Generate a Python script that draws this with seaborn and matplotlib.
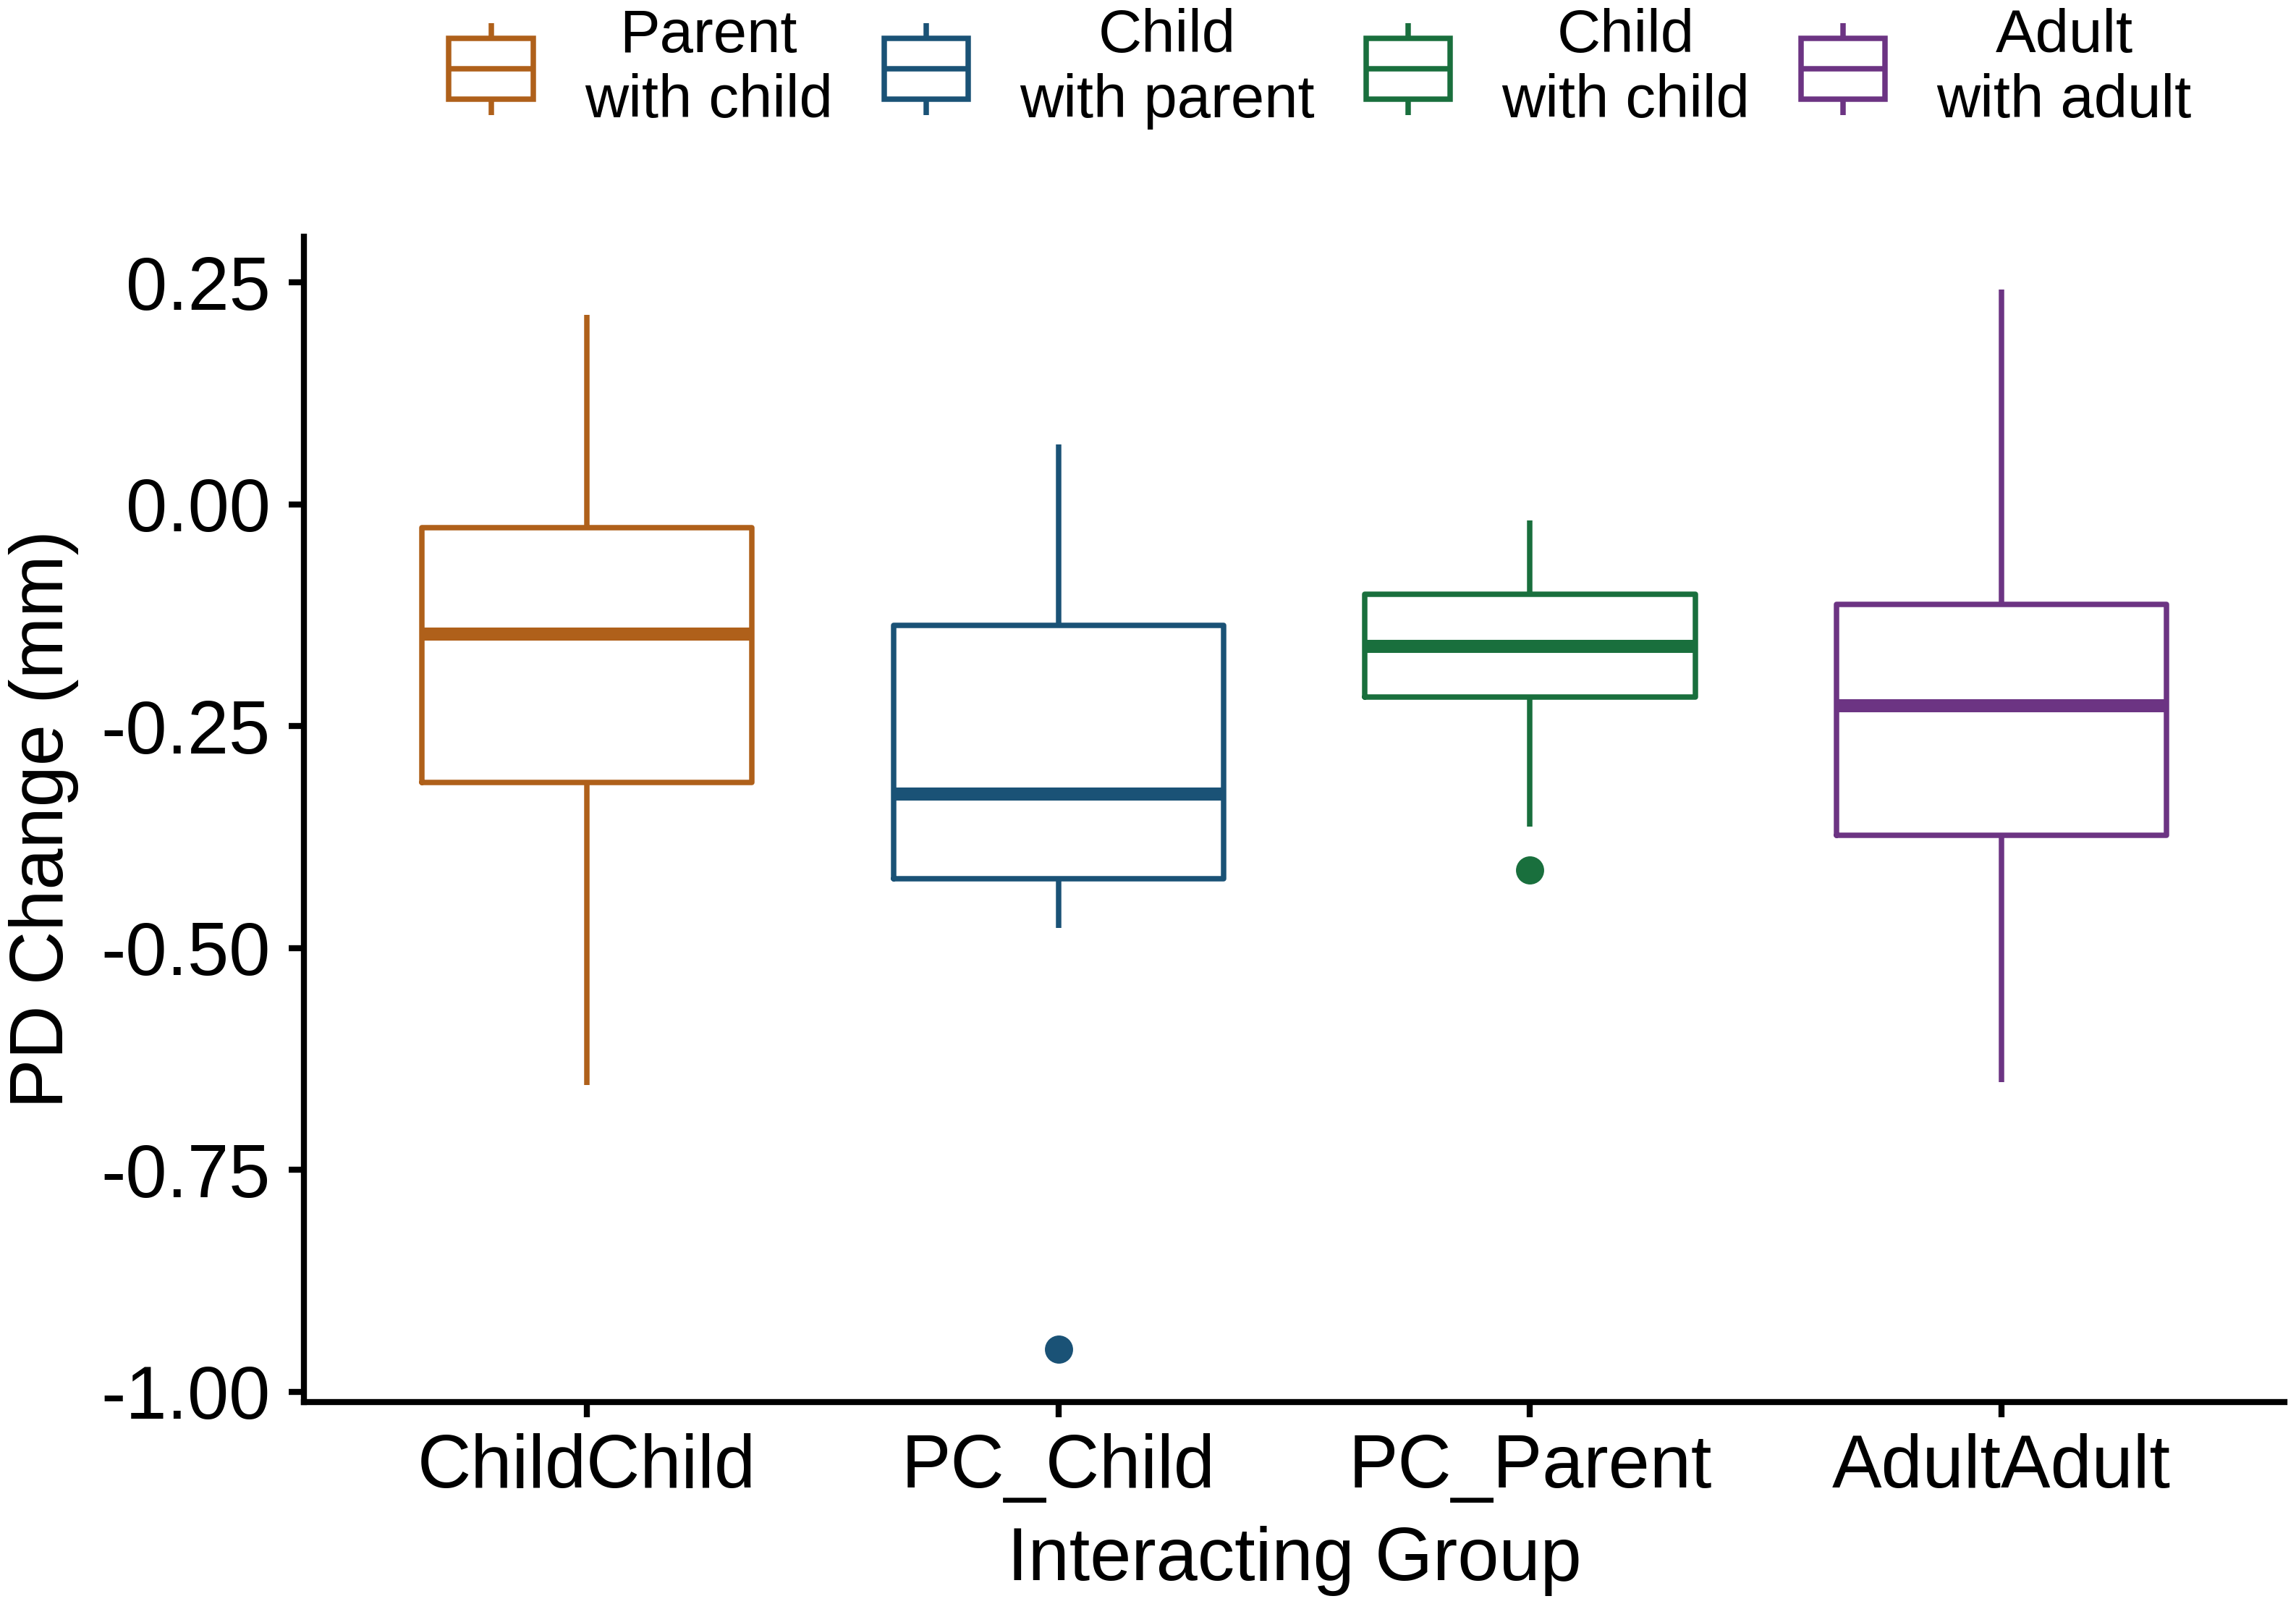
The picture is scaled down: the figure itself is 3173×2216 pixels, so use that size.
import numpy as np
import pandas as pd
import matplotlib
matplotlib.use('Agg')
import matplotlib.pyplot as plt
import seaborn as sns
from matplotlib.legend_handler import HandlerBase
from matplotlib.patches import Rectangle, Patch
from matplotlib.lines import Line2D

# groups in x order, colours and legend labels
groups = ['ChildChild', 'PC_Child', 'PC_Parent', 'AdultAdult']
colors = ['#AF601A', '#1A5276', '#196F3D', '#6C3483']
legend_labels = ['Parent\nwith child', 'Child\nwith parent', 'Child\nwith child', 'Adult\nwith adult']

# values per group (whiskers, quartiles, median, outliers)
childchild = [-0.654, -0.313, -0.146, -0.026, 0.214]
pc_child = [-0.952, -0.477, -0.422, -0.380, -0.326, -0.250, -0.136, 0.068, 0.068]
pc_parent = [-0.412, -0.363, -0.217, -0.190, -0.160, -0.130, -0.101, -0.018, -0.018]
adultadult = [-0.651, -0.373, -0.227, -0.113, 0.242]

yticks = [0.25, 0.00, -0.25, -0.50, -0.75, -1.00]

df = pd.concat([
    pd.DataFrame({'group': g, 'value': v})
    for g, v in zip(groups, [childchild, pc_child, pc_parent, adultadult])
])

sns.set_style('ticks')
plt.rcParams['font.family'] = ['Liberation Sans', 'DejaVu Sans']
plt.rcParams['text.color'] = 'black'
plt.rcParams['axes.labelcolor'] = 'black'

fig = plt.figure(figsize=(15.865, 11.08), dpi=200)
ax = fig.add_axes([0.1324, 0.1259, 0.8626, 0.7265])

lw = 2.7
sns.boxplot(data=df, x='group', y='value', hue='group', order=groups, hue_order=groups,
            palette=colors, fill=False, width=0.7, linewidth=lw, showcaps=False,
            medianprops=dict(linewidth=6.5, solid_capstyle='butt'),
            whiskerprops=dict(solid_capstyle='butt'),
            flierprops=dict(marker='o', markersize=13),
            legend=False, ax=ax)

# filled outlier dots like the reference
for ln in ax.lines:
    if ln.get_marker() == 'o':
        ln.set_markerfacecolor(ln.get_markeredgecolor())

ax.set_xlim(-0.6, 3.6)
ax.set_ylim(-1.0115, 0.3017)
ax.set_yticks(yticks)
ax.set_yticklabels([f'{t:.2f}' for t in yticks])

for side in ['top', 'right']:
    ax.spines[side].set_visible(False)
for side in ['left', 'bottom']:
    ax.spines[side].set_linewidth(3)
    ax.spines[side].set_color('black')
ax.tick_params(axis='both', length=7.6, width=3, labelsize=37, colors='black')
ax.tick_params(axis='y', pad=9)
ax.tick_params(axis='x', pad=8)

ax.set_xlabel('Interacting Group', fontsize=37, labelpad=11)
ax.set_ylabel('PD Change (mm)', fontsize=37, labelpad=11)


class BoxKey(HandlerBase):
    def create_artists(self, legend, orig, xd, yd, w, h, fontsize, trans):
        c = orig.get_edgecolor()
        x0, y0 = -xd, -yd
        box = Rectangle((x0, y0 + 0.17 * h), w, 0.66 * h, fill=False,
                        edgecolor=c, lw=lw, transform=trans)
        med = Line2D([x0, x0 + w], [y0 + 0.5 * h] * 2, color=c, lw=lw,
                     solid_capstyle='butt', transform=trans)
        up = Line2D([x0 + w / 2] * 2, [y0 + 0.83 * h, y0 + h], color=c, lw=lw,
                    solid_capstyle='butt', transform=trans)
        lo = Line2D([x0 + w / 2] * 2, [y0, y0 + 0.17 * h], color=c, lw=lw,
                    solid_capstyle='butt', transform=trans)
        return [box, med, up, lo]


handles = [Patch(edgecolor=c, facecolor='none') for c in colors]
leg = fig.legend(handles, legend_labels, handler_map={Patch: BoxKey()},
                 ncol=4, frameon=False, fontsize=30, loc='center',
                 bbox_to_anchor=(0.575, 0.957), handlelength=1.4, handleheight=1.97,
                 handletextpad=0.85, columnspacing=0.85)
for t in leg.get_texts():
    t.set_multialignment('center')
    t.set_linespacing(1.2)
for col in leg._legend_handle_box.get_children():
    for row in col.get_children():
        row.align = 'center'

fig.savefig('out.png', dpi=200)
